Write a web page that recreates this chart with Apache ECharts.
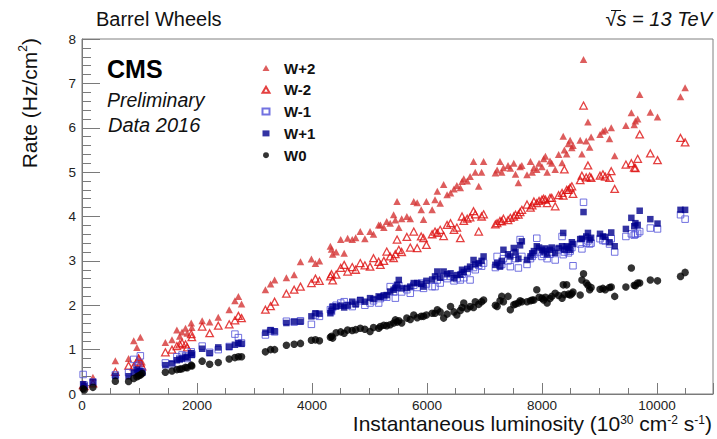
<!DOCTYPE html>
<html>
<head>
<meta charset="utf-8">
<script src="https://cdn.jsdelivr.net/npm/echarts@6/dist/echarts.min.js"></script>
<style>
  html, body { margin: 0; padding: 0; background: #fff; }
  #chart { width: 717px; height: 439px; }
</style>
</head>
<body>
<div id="chart"></div>
<script>
// Instantaneous luminosity of each measurement (1e30 cm^-2 s^-1)
const lumi = [20, 40, 190, 580, 810, 900, 955, 985, 1015, 1045,
  1450, 1565, 1650, 1700, 1740, 1800, 1830, 1900, 1910,
  2090, 2220, 2370, 2560, 2660, 2720, 2775,
  3190, 3280, 3350, 3555, 3690, 3800, 3990, 4060, 4130,
  4320, 4340, 4360, 4420, 4500, 4560, 4620, 4700, 4760, 4840,
  4920, 5010, 5070, 5160, 5190, 5250, 5300, 5360, 5420, 5450, 5480, 5510, 5560,
  5650, 5710, 5770, 5830, 5900, 5940, 5990, 6090, 6140, 6180, 6230,
  6290, 6350, 6410, 6470, 6520, 6580, 6610, 6640, 6700, 6750, 6810, 6840, 6900, 6950, 6985,
  7190, 7220, 7270, 7300, 7330, 7410, 7450, 7510, 7540, 7590, 7620, 7650, 7740, 7800, 7830, 7860, 7910, 7950,
  8000, 8030, 8060, 8090, 8140, 8170, 8230, 8290, 8350, 8370, 8390, 8430, 8460, 8490, 8520, 8540,
  8665, 8695, 8723, 8770, 8800, 8830, 8855,
  9010, 9060, 9100, 9175, 9205, 9265,
  9460, 9555, 9605, 9625, 9665, 9700, 9885, 10010, 10410, 10490];

// Rates per barrel wheel (Hz/cm2)
const rateW0 = [0.12, 0.09, 0.15, 0.29, 0.28, 0.35, 0.39, 0.41, 0.43, 0.46,
  0.49, 0.52, 0.55, 0.56, 0.57, 0.60, 0.59, 0.65, 0.63,
  0.74, 0.67, 0.71, 0.79, 0.82, 0.84, 0.84,
  0.95, 1.00, 1.00, 1.10, 1.12, 1.14, 1.21, 1.22, 1.20,
  1.28, 1.30, 1.26, 1.38, 1.40, 1.37, 1.44, 1.43, 1.45, 1.48,
  1.46, 1.41, 1.50, 1.48, 1.52, 1.55, 1.54, 1.56, 1.60, 1.67, 1.62, 1.65, 1.60,
  1.71, 1.68, 1.78, 1.72, 1.75, 1.75, 1.78, 1.82, 1.82, 1.90, 1.85,
  1.71, 1.80, 1.97, 1.85, 1.78, 1.88, 1.95, 2.05, 1.92, 1.97, 1.95, 2.08, 2.02, 2.08, 2.12,
  2.00, 1.97, 2.10, 2.20, 2.08, 2.20, 1.90, 2.01, 2.03, 2.05, 2.10, 2.08, 2.08, 2.10, 2.12, 2.12, 2.35, 2.18,
  2.16, 2.12, 2.18, 2.05, 2.15, 2.20, 2.27, 2.22, 2.16, 2.46, 2.24, 2.46, 2.25, 2.23, 2.26, 2.30,
  2.23, 2.57, 2.71, 2.50, 2.45, 2.35, 2.40,
  2.36, 2.38, 2.35, 2.40, 2.41, 2.20,
  2.41, 2.84, 2.45, 2.44, 2.50, 2.50, 2.57, 2.55, 2.65, 2.74];

const rateWp1 = [0.22, 0.18, 0.27, 0.41, 0.40, 0.48, 0.55, 0.50, 0.52, 0.48,
  0.65, 0.69, 0.76, 0.78, 0.80, 0.84, 0.82, 0.92, 0.88,
  1.02, 0.92, 1.05, 1.06, 1.11, 1.15, 1.13,
  1.38, 1.44, 1.41, 1.60, 1.63, 1.63, 1.75, 1.82, 1.81,
  1.82, 1.88, 1.97, 1.97, 1.99, 1.95, 2.00, 2.08, 2.02, 2.12,
  2.08, 2.16, 2.14, 2.20, 2.18, 2.22, 2.23, 2.31, 2.35, 2.39, 2.46, 2.57, 2.38,
  2.39, 2.42, 2.50, 2.50, 2.48, 2.42, 2.55, 2.58, 2.65, 2.76, 2.62,
  2.76, 2.70, 2.72, 2.61, 2.68, 2.69, 2.80, 2.75, 2.82, 2.87, 3.02, 2.92, 2.95, 3.00, 3.10,
  2.91, 2.95, 2.87, 3.00, 3.25, 3.15, 3.10, 3.29, 3.20, 3.05, 3.35, 3.44, 3.02, 3.10, 3.17, 3.22, 3.33, 3.30,
  3.25, 3.21, 3.28, 3.15, 3.25, 3.30, 3.18, 3.29, 3.33, 3.63, 3.25, 3.33, 3.30, 3.25, 3.42, 3.38,
  3.49, 3.50, 4.10, 3.55, 3.63, 3.48, 3.52,
  3.61, 3.55, 3.54, 3.42, 3.64, 3.33,
  3.72, 3.97, 3.78, 3.85, 3.81, 4.13, 3.94, 3.84, 4.15, 4.15];

const rateWm1 = [0.44, 0.20, 0.27, 0.43, 0.48, 0.78, 0.60, 0.65, 0.86, 0.50,
  0.70, 0.66, 0.84, 0.80, 0.88, 0.86, 0.80, 0.95, 0.90,
  1.08, 0.94, 1.00, 1.07, 1.35, 1.27, 1.15,
  1.33, 1.42, 1.40, 1.64, 1.62, 1.65, 1.57, 1.78, 1.75,
  1.90, 1.86, 1.95, 2.00, 2.05, 2.08, 2.00, 1.97, 2.04, 2.10,
  2.00, 2.05, 2.10, 2.05, 2.15, 2.20, 2.18, 2.42, 2.30, 2.16, 2.40, 2.45, 2.30,
  2.35, 2.27, 2.45, 2.40, 2.50, 2.38, 2.48, 2.42, 2.42, 2.57, 2.50,
  2.65, 2.60, 2.65, 2.55, 2.60, 2.57, 2.70, 2.62, 2.75, 2.57, 2.85, 2.80, 2.90, 2.88, 2.95,
  2.85, 3.10, 2.90, 2.92, 3.05, 3.00, 2.87, 3.15, 3.05, 2.84, 3.48, 3.10, 2.92, 3.05, 3.10, 3.15, 3.51, 3.20,
  3.10, 3.15, 3.20, 3.05, 3.15, 3.20, 3.02, 3.25, 3.55, 3.14, 3.20, 3.25, 3.18, 3.22, 3.30, 2.89,
  3.38, 3.27, 4.32, 3.40, 3.45, 3.38, 3.40,
  3.50, 3.46, 3.45, 3.38, 3.50, 3.20,
  3.55, 3.61, 3.58, 3.60, 3.62, 3.66, 3.74, 3.72, 4.04, 3.94];

const rateWm2 = [0.20, 0.18, 0.24, 0.50, 0.64, 0.62, 0.73, 0.80, 0.70, 0.62,
  0.94, 1.00, 1.08, 1.12, 1.15, 1.12, 1.05, 1.35, 1.28,
  1.52, 1.37, 1.54, 1.57, 1.66, 1.76, 1.71,
  1.90, 1.98, 2.08, 2.26, 2.35, 2.42, 2.50, 2.60, 2.55,
  2.65, 2.70, 2.56, 2.69, 2.84, 2.91, 2.76, 2.86, 2.80, 2.95,
  2.90, 2.87, 3.06, 2.98, 2.91, 3.00, 3.21, 3.10, 3.06, 3.15, 3.48, 3.25, 3.20,
  3.54, 3.30, 3.66, 3.29, 3.55, 3.51, 3.36, 3.60, 3.66, 3.63, 3.70,
  3.56, 3.81, 3.85, 3.70, 3.75, 3.51, 4.00, 3.90, 3.95, 3.98, 4.12, 4.05, 3.66, 4.00, 4.05,
  3.82, 3.85, 3.90, 3.89, 3.95, 3.92, 3.97, 4.00, 4.04, 4.04, 4.10, 4.15, 4.27, 4.20, 4.25, 4.34, 4.30, 4.35,
  4.38, 4.40, 4.38, 4.30, 4.42, 4.42, 4.23, 4.48, 4.53, 4.47, 5.06, 4.60, 4.60, 4.65, 4.68, 4.51,
  4.82, 4.92, 6.50, 4.88, 5.15, 4.90, 4.87,
  4.92, 4.95, 4.90, 4.87, 5.02, 4.62,
  5.17, 5.20, 5.10, 5.09, 5.30, 5.85, 5.42, 5.27, 5.77, 5.67];

const rateWp2 = [0.20, 0.22, 0.38, 0.75, 0.80, 1.20, 1.05, 0.82, 1.28, 0.72,
  1.16, 1.22, 1.44, 1.30, 1.40, 1.48, 1.37, 1.60, 1.50,
  1.65, 1.62, 1.73, 1.90, 2.10, 2.20, 2.03,
  2.35, 2.48, 2.57, 2.62, 2.69, 2.98, 3.04, 2.94, 3.00,
  3.33, 3.26, 3.15, 3.20, 3.48, 3.17, 3.51, 3.48, 3.52, 3.66,
  3.50, 3.66, 3.60, 3.81, 3.81, 3.75, 3.89, 3.85, 4.04, 3.92, 4.34, 3.75, 3.95,
  4.00, 3.95, 4.34, 4.31, 4.15, 3.93, 4.34, 4.15, 4.38, 4.57, 4.30,
  4.72, 4.49, 4.53, 4.62, 4.70, 4.65, 4.79, 4.85, 4.80, 4.90, 5.24, 5.00, 4.68, 5.00, 5.24,
  4.98, 5.05, 5.24, 5.00, 5.10, 5.15, 5.09, 5.20, 4.95, 4.76, 5.12, 5.15, 4.94, 5.24, 5.00, 5.10, 5.06, 5.20,
  5.12, 5.30, 5.36, 5.00, 5.25, 5.20, 5.06, 5.40, 5.21, 5.81, 5.50, 5.41, 5.64, 5.72, 5.55, 5.60,
  5.72, 5.41, 7.54, 5.70, 6.13, 5.56, 5.79,
  5.85, 5.92, 5.95, 5.75, 6.00, 5.37,
  6.05, 6.34, 6.07, 6.15, 6.20, 6.75, 6.35, 6.24, 6.70, 6.90];

const wheelNames = ['W+2', 'W-2', 'W-1', 'W+1', 'W0'];

const FONT = '"Liberation Sans", Helvetica, Arial, sans-serif';

function points(rates) {
  return lumi.map((x, i) => [x, rates[i]]);
}

const markerStyles = {
  'W+2': { symbol: 'triangle', size: [7.5, 7], itemStyle: { color: '#d43535' } },
  'W-2': { symbol: 'triangle', size: [7.5, 7], itemStyle: { color: 'rgba(255,255,255,0)', borderColor: '#dd1010', borderWidth: 1.3 } },
  'W-1': { symbol: 'rect', size: 6.5, itemStyle: { color: 'rgba(255,255,255,0)', borderColor: '#4f4fd8', borderWidth: 1 } },
  'W+1': { symbol: 'rect', size: 6.5, itemStyle: { color: '#00008c' } },
  'W0':  { symbol: 'circle', size: 7.5, itemStyle: { color: '#000000' } }
};

const rateByWheel = { 'W+2': rateWp2, 'W-2': rateWm2, 'W-1': rateWm1, 'W+1': rateWp1, 'W0': rateW0 };

const series = wheelNames.map(name => ({
  name: name,
  type: 'scatter',
  xAxisIndex: 0,
  yAxisIndex: 0,
  symbol: markerStyles[name].symbol,
  symbolSize: markerStyles[name].size,
  itemStyle: markerStyles[name].itemStyle,
  data: points(rateByWheel[name]),
  silent: true
}));

const axisGrey = '#7a7a7a';

const option = {
  animation: false,
  backgroundColor: '#ffffff',
  textStyle: { fontFamily: FONT },
  grid: {
    left: 82, top: 39, width: 631, height: 355,
    show: true, borderColor: '#808080', borderWidth: 1,
    backgroundColor: 'rgba(0,0,0,0)'
  },
  xAxis: [
    {
      type: 'value', position: 'bottom', min: 0, max: 10975, interval: 2000,
      axisLine: { show: true, lineStyle: { color: axisGrey, width: 1 } },
      axisTick: { show: true, inside: true, length: 11, lineStyle: { color: axisGrey } },
      axisLabel: {
        fontSize: 13.5, lineHeight: 13, color: '#222', margin: 5, fontFamily: FONT,
        formatter: v => (v % 2000 === 0 ? String(v) : '')
      },
      splitLine: { show: false }
    },
    {
      type: 'value', position: 'bottom', min: 0, max: 10975, interval: 500,
      axisLine: { show: false },
      axisTick: { show: true, inside: true, length: 6, lineStyle: { color: axisGrey } },
      axisLabel: { show: false },
      splitLine: { show: false }
    }
  ],
  yAxis: {
    type: 'value', min: 0, max: 8, interval: 1,
    axisLine: { show: true, lineStyle: { color: axisGrey, width: 1 } },
    axisTick: { show: true, inside: true, length: 18, lineStyle: { color: axisGrey } },
    minorTick: { show: true, splitNumber: 5, length: 9, lineStyle: { color: axisGrey } },
    axisLabel: { fontSize: 13.5, color: '#222', margin: 6, fontFamily: FONT },
    splitLine: { show: false },
    minorSplitLine: { show: false }
  },
  legend: {
    orient: 'vertical',
    left: 256.5, top: 55,
    itemWidth: 7, itemHeight: 6,
    itemGap: 5.8,
    data: wheelNames,
    textStyle: { fontSize: 15, fontWeight: 'bold', color: '#111', lineHeight: 16, fontFamily: FONT, padding: [0, 0, 0, 9.5] },
    selectedMode: false
  },
  graphic: [
    {
      type: 'text', x: 96, y: 19,
      style: { text: 'Barrel Wheels', fontSize: 20, fontFamily: FONT, fill: '#111', align: 'left', verticalAlign: 'middle' }
    },
    {
      type: 'text', x: 712, y: 19,
      style: { text: '\u221As = 13 TeV', fontSize: 20, fontStyle: 'italic', fontFamily: FONT, fill: '#111', align: 'right', verticalAlign: 'middle' }
    },
    {
      type: 'line',
      shape: { x1: 611, y1: 10.5, x2: 621, y2: 10.5 },
      style: { stroke: '#111', lineWidth: 1 }
    },
    {
      type: 'text', x: 107, y: 68.5,
      style: { text: 'CMS', fontSize: 25, fontWeight: 'bold', fontFamily: FONT, fill: '#000', align: 'left', verticalAlign: 'middle' }
    },
    {
      type: 'text', x: 107, y: 99.5,
      style: { text: 'Preliminary', fontSize: 19.5, fontStyle: 'italic', fontFamily: FONT, fill: '#111', align: 'left', verticalAlign: 'middle' }
    },
    {
      type: 'text', x: 108, y: 124.5,
      style: { text: 'Data 2016', fontSize: 20, fontStyle: 'italic', fontFamily: FONT, fill: '#111', align: 'left', verticalAlign: 'middle' }
    },
    {
      type: 'text', x: 712, y: 432,
      style: {
        text: '{n|Instantaneous luminosity (10}{s|30}{n| cm}{s|-2}{n| s}{s|-1}{n|)}',
        align: 'right', verticalAlign: 'bottom', fill: '#111',
        rich: {
          n: { fontSize: 21, fontFamily: FONT, lineHeight: 18, fill: '#111' },
          s: { fontSize: 12, fontFamily: FONT, lineHeight: 8, verticalAlign: 'top', fill: '#111' }
        }
      }
    },
    {
      type: 'text', x: 41, y: 38, rotation: Math.PI / 2,
      style: {
        text: '{n|Rate (Hz/cm}{s|2}{n|)}',
        align: 'right', verticalAlign: 'bottom', fill: '#111',
        rich: {
          n: { fontSize: 21, fontFamily: FONT, lineHeight: 24, fill: '#111' },
          s: { fontSize: 12, fontFamily: FONT, lineHeight: 14, verticalAlign: 'top', fill: '#111' }
        }
      }
    }
  ],
  series: series
};

const chart = echarts.init(document.getElementById('chart'), null, { renderer: 'svg' });
chart.setOption(option);
</script>
</body>
</html>
